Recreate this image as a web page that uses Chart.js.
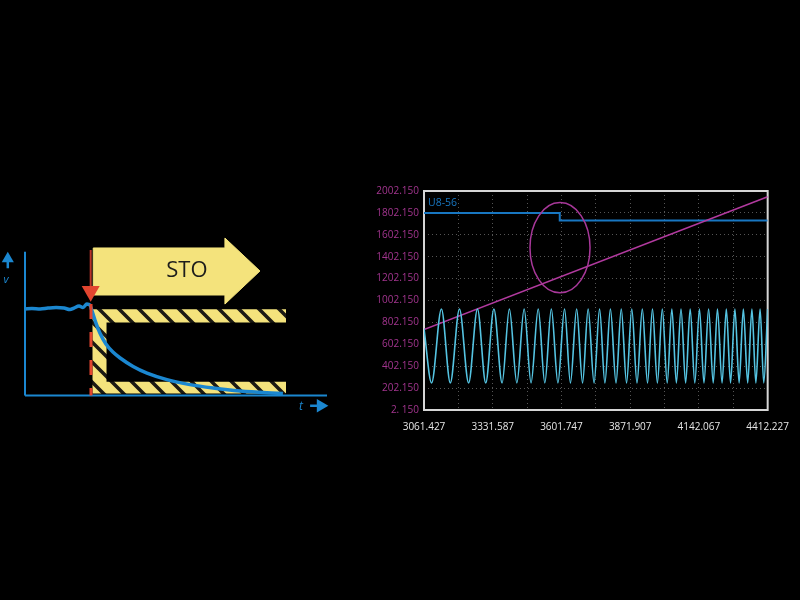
<!DOCTYPE html>
<html lang="en">
<head>
<meta charset="UTF-8">
<title>STO speed monitoring</title>
<script src="https://cdn.jsdelivr.net/npm/chart.js"></script>
<style>
  html, body { margin: 0; padding: 0; background: #000; }
  body { width: 800px; height: 600px; position: relative; overflow: hidden; }
  #sto { position: absolute; left: 0; top: 230px; }
  #scope { position: absolute; left: 360px; top: 180px; }
</style>
</head>
<body>
<canvas id="sto" width="340" height="190"></canvas>
<canvas id="scope" width="440" height="260"></canvas>

<script>
// ---- left diagram: speed v over time t (arbitrary units 0..100) ----
const speedTimes  = [0, 2.3, 5.0, 7.6, 10.3, 12.9, 14.9, 16.2, 17.9, 19.2, 20.5, 21.5, 22.2, 23.5, 24.8, 26.8, 29.1, 31.5, 35.8, 40.4, 47.0, 54.6, 62.3, 71.2, 80.1, 85.4];
const speedValues = [60.2, 60.5, 60.2, 60.8, 61.2, 60.8, 59.8, 60.8, 62.2, 61.2, 63.6, 62.9, 58.8, 50.4, 43.5, 35.8, 30.2, 26.1, 20.2, 15.6, 11.1, 7.6, 5.2, 3.1, 1.9, 1.5];

// STO arrow outline
const stoTimes  = [22.6, 66.2, 66.2, 77.8, 66.2, 66.2, 22.6, 22.6];
const stoValues = [102.6, 102.6, 109.5, 86.6, 63.6, 69.9, 69.9, 102.6];

// monitored band (hatched)
const bandTimes  = [22.35, 86.42, 86.42, 26.99, 26.99, 86.42, 86.42, 22.35, 22.35];
const bandValues = [59.94, 59.94, 50.76, 50.76, 9.6, 9.6, 1.39, 1.39, 59.94];

// STO trigger instant
const stopTime = 21.85;
const stopValues = [63.6, 0];
const triggerTime = 21.75;
const triggerValues = [101.2, 75];
const triggerHead = 72.5;

// axes
const axisMax = 100;

const blue = '#1b87d0';
const yellow = '#f4e37c';
const red = '#e2452f';

const pts = (xs, ys) => xs.map((x, i) => ({ x: x, y: ys[i] }));

// hatch pattern
const stripe = document.createElement('canvas');
stripe.width = 20; stripe.height = 20;
const sctx = stripe.getContext('2d');
sctx.fillStyle = yellow;
sctx.fillRect(0, 0, 20, 20);
sctx.strokeStyle = '#1c1a14';
sctx.lineWidth = 3.5;
sctx.beginPath();
sctx.moveTo(-5, -5); sctx.lineTo(25, 25);
sctx.moveTo(-5, 15); sctx.lineTo(5, 25);
sctx.moveTo(15, -5); sctx.lineTo(25, 5);
sctx.stroke();
const hatch = sctx.createPattern(stripe, 'repeat');

const diagramText = {
  id: 'diagramText',
  afterDatasetsDraw(chart) {
    const { ctx, scales: { x, y } } = chart;
    ctx.save();
    ctx.textAlign = 'center';
    ctx.textBaseline = 'middle';
    ctx.fillStyle = '#1d1d1b';
    ctx.font = '22px "Open Sans"';
    ctx.fillText('STO', x.getPixelForValue(53.6), y.getPixelForValue(86.6));
    ctx.fillStyle = blue;
    ctx.font = 'italic 11px "Open Sans"';
    ctx.fillText('v', x.getPixelForValue(-6.3), y.getPixelForValue(80.3));
    ctx.font = 'italic 12px "Open Sans"';
    ctx.fillText('t', x.getPixelForValue(91.4), y.getPixelForValue(-7.6));
    ctx.restore();
  }
};

new Chart(document.getElementById('sto'), {
  type: 'scatter',
  data: {
    datasets: [
      { data: pts([0, 0], [0, axisMax]), showLine: true, borderColor: blue, borderWidth: 2, pointRadius: 0, order: 7 },
      { data: pts([0, axisMax], [0, 0]), showLine: true, borderColor: blue, borderWidth: 2, pointRadius: 0, order: 7 },
      { data: pts(stoTimes, stoValues), showLine: true, fill: 'shape', backgroundColor: yellow, borderColor: yellow, borderWidth: 1, pointRadius: 0, order: 6 },
      { data: pts(bandTimes, bandValues), showLine: true, fill: 'shape', backgroundColor: hatch, borderColor: 'rgba(0,0,0,0)', borderWidth: 1, pointRadius: 0, order: 5 },
      { data: pts(speedTimes, speedValues), showLine: true, cubicInterpolationMode: 'monotone', borderColor: blue, borderWidth: 3.5, pointRadius: 0, order: 3 },
      { data: pts([stopTime, stopTime], stopValues), showLine: true, borderColor: red, borderWidth: 3, borderDash: [15, 13], pointRadius: 0, order: 2 },
      { data: pts([triggerTime, triggerTime], triggerValues), showLine: true, borderColor: '#b8342a', borderWidth: 2, pointRadius: 0, order: 2 },
      { data: [{ x: triggerTime, y: triggerHead }], pointStyle: 'triangle', rotation: 180, pointRadius: 10.4, backgroundColor: red, borderColor: red, borderWidth: 0, order: 1 },
      // axis arrows
      { data: pts([-5.7, -5.7], [88.5, 93]), showLine: true, borderColor: blue, borderWidth: 2.5, pointRadius: 0, order: 1 },
      { data: [{ x: -5.7, y: 95.1 }], pointStyle: 'triangle', rotation: 0, pointRadius: 7, backgroundColor: blue, borderColor: blue, borderWidth: 0, order: 1 },
      { data: pts([94.4, 97], [-7.1, -7.1]), showLine: true, borderColor: blue, borderWidth: 2.5, pointRadius: 0, order: 1 },
      { data: [{ x: 97.9, y: -7.1 }], pointStyle: 'triangle', rotation: 90, pointRadius: 7.7, backgroundColor: blue, borderColor: blue, borderWidth: 0, order: 1 }
    ]
  },
  options: {
    responsive: false,
    animation: false,
    events: [],
    layout: { padding: 0, autoPadding: false },
    plugins: { legend: { display: false }, tooltip: { enabled: false } },
    scales: {
      x: { type: 'linear', display: false, min: -8.28, max: 104.3 },
      y: { type: 'linear', display: false, min: -17.0, max: 115.1 }
    }
  },
  plugins: [diagramText]
});

// ---- right chart: scope trace ----
const timeTicks = [3061.427, 3331.587, 3601.747, 3871.907, 4142.067, 4412.227];
const timeTickLabels = ['3061.427', '3331.587', '3601.747', '3871.907', '4142.067', '4412.227'];
const levelTicks = [2.15, 202.15, 402.15, 602.15, 802.15, 1002.15, 1202.15, 1402.15, 1602.15, 1802.15, 2002.15];
const levelTickLabels = ['2. 150', '202.150', '402.150', '602.150', '802.150', '1002.150', '1202.150', '1402.150', '1602.150', '1802.150', '2002.150'];

// U8-56 step
const stepTimes = [3061.427, 3595, 4412.227];
const stepLevels = [1802, 1732, 1732];

// ramp
const rampTimes = [3061.427, 4412.227];
const rampLevels = [736, 1950];

// oscillation: extremes
const waveTimes = [3061.4, 3091.2, 3129.9, 3164.8, 3200.8, 3236.8, 3271.6, 3304.1, 3336.2, 3368.4,
  3397.0, 3426.4, 3455.1, 3482.2, 3510.4, 3536.3, 3561.9, 3587.8, 3613.8, 3637.0,
  3661.4, 3684.6, 3706.6, 3729.9, 3751.5, 3772.4, 3794.1, 3816.2, 3836.7, 3857.6,
  3878.1, 3898.6, 3919.5, 3940.0, 3959.4, 3978.7, 3998.1, 4017.4, 4035.6, 4053.4,
  4071.6, 4089.8, 4107.6, 4125.8, 4144.0, 4161.8, 4180.0, 4198.2, 4214.8, 4233.0,
  4249.7, 4266.3, 4283.4, 4300.0, 4316.6, 4333.7, 4350.3, 4365.8, 4382.4, 4396.8, 4412.2];
const waveLevels = [745, 250, 925, 250, 925, 250, 925, 250, 925, 250,
  925, 250, 925, 250, 925, 250, 925, 250, 925, 250,
  925, 250, 925, 250, 925, 250, 925, 250, 925, 250,
  925, 250, 925, 250, 925, 250, 925, 250, 925, 250,
  925, 250, 925, 250, 925, 250, 925, 250, 925, 250,
  925, 250, 925, 250, 925, 250, 925, 250, 925, 250, 925];

// highlight ellipse around the step
const markCenter = [3596, 1484];
const markRadius = [118, 412];

const gridTimes = [];
timeTicks.forEach((t, i) => {
  gridTimes.push(t);
  if (i < timeTicks.length - 1) gridTimes.push((t + timeTicks[i + 1]) / 2);
});

const scopeFrame = {
  id: 'scopeFrame',
  beforeDatasetsDraw(chart) {
    const { ctx, chartArea: a } = chart;
    ctx.save();
    ctx.strokeStyle = '#d6d6d6';
    ctx.lineWidth = 2;
    ctx.strokeRect(a.left, a.top, a.right - a.left, a.bottom - a.top);
    ctx.restore();
  },
  afterDatasetsDraw(chart) {
    const { ctx, chartArea: a, scales: { x, y } } = chart;
    const cx = x.getPixelForValue(markCenter[0]);
    const cy = y.getPixelForValue(markCenter[1]);
    const rx = x.getPixelForValue(markCenter[0] + markRadius[0]) - cx;
    const ry = cy - y.getPixelForValue(markCenter[1] + markRadius[1]);
    ctx.save();
    ctx.strokeStyle = '#a8389a';
    ctx.lineWidth = 1.5;
    ctx.beginPath();
    ctx.ellipse(cx, cy, rx, ry, 0, 0, Math.PI * 2);
    ctx.stroke();
    ctx.fillStyle = '#1877c2';
    ctx.font = '10.5px "Open Sans"';
    ctx.textBaseline = 'middle';
    ctx.fillText('U8-56', a.left + 4, a.top + 12);
    ctx.restore();
  }
};

new Chart(document.getElementById('scope'), {
  type: 'scatter',
  data: {
    datasets: [
      { label: 'U8-56', data: pts(stepTimes, stepLevels), showLine: true, stepped: 'before', borderColor: '#1877c2', borderWidth: 2, order: 3 },
      { label: 'ramp', data: pts(rampTimes, rampLevels), showLine: true, borderColor: '#b23a9f', borderWidth: 1.5, order: 2 },
      { label: 'wave', data: pts(waveTimes, waveLevels), showLine: true, cubicInterpolationMode: 'monotone', borderColor: '#55c4e2', borderWidth: 1.6, order: 1 }
    ]
  },
  options: {
    responsive: false,
    animation: false,
    events: [],
    layout: { padding: { top: 9, right: 27, left: 0, bottom: 0 } },
    elements: { point: { radius: 0 } },
    plugins: { legend: { display: false }, tooltip: { enabled: false } },
    scales: {
      x: {
        type: 'linear',
        min: timeTicks[0],
        max: timeTicks[timeTicks.length - 1],
        afterBuildTicks: s => { s.ticks = gridTimes.map(v => ({ value: v })); },
        afterFit: s => { s.height = 30; },
        ticks: {
          autoSkip: false, maxRotation: 0, minRotation: 0, padding: 11,
          color: '#e6e6e6', font: { family: 'Open Sans', size: 10 },
          callback: (v, i) => (i % 2 ? '' : timeTickLabels[i / 2])
        },
        grid: { color: '#555', drawTicks: false, lineWidth: 1 },
        border: { display: false, dash: [1, 3] }
      },
      y: {
        type: 'linear',
        min: levelTicks[0],
        max: levelTicks[levelTicks.length - 1],
        afterBuildTicks: s => { s.ticks = levelTicks.map(v => ({ value: v })); },
        afterFit: s => { s.width = 64; },
        ticks: {
          autoSkip: false, padding: 5,
          color: '#a3358f', font: { family: 'Open Sans', size: 10 },
          callback: (v, i) => levelTickLabels[i]
        },
        grid: { color: '#555', drawTicks: false, lineWidth: 1 },
        border: { display: false, dash: [1, 3] }
      }
    }
  },
  plugins: [scopeFrame]
});
</script>
</body>
</html>
